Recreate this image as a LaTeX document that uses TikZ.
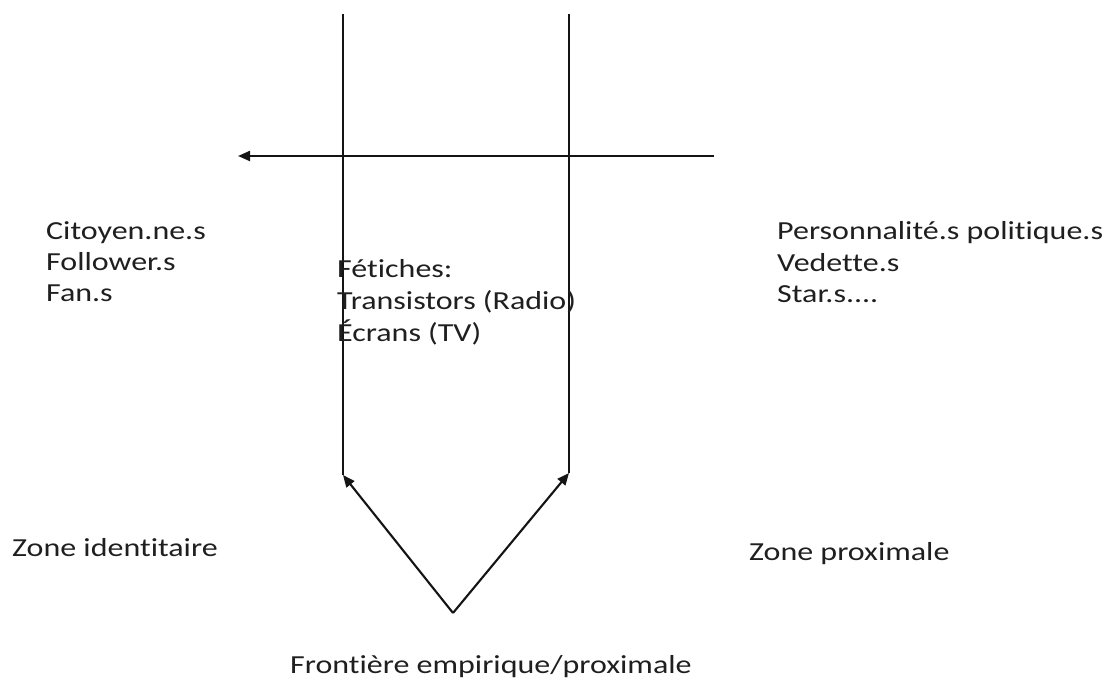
\documentclass[tikz,border=0pt]{standalone}
\usepackage{fontspec}
\setmainfont{Carlito}[FakeStretch=1.23,Ligatures={NoCommon,NoContextual}]
\usetikzlibrary{arrows.meta}
\begin{document}
\begin{tikzpicture}[x=1pt,y=-1pt,
  line/.style={line width=2.1pt,draw=black!92},
  tip/.style={-{Triangle[length=12pt,width=10pt]}},
  lbl/.style={anchor=base west,inner sep=0pt,text=black!88,font=\fontsize{26}{31}\selectfont}]
\useasboundingbox[fill=white] (0,0) rectangle (1112,684);

% the two vertical bounds and their feet
\coordinate (t1) at (343,14);
\coordinate (b1) at (343,475);
\coordinate (t2) at (569,14);
\coordinate (b2) at (569,473);
\coordinate (apex) at (453,613);
\coordinate (hR) at (714,156);
\coordinate (hL) at (238,156);

\draw[line] (t1) -- (b1);
\draw[line] (t2) -- (b2);
\draw[line,tip] (hR) -- (hL);
\draw[line,tip] (apex) -- (b1);
\draw[line,tip] (apex) -- (b2);

% left column
\node[lbl] (c1) at (46,240) {Citoyen.ne.s};
\node[lbl] (c2) at (46,271) {Follower.s};
\node[lbl] (c3) at (46,302) {Fan.s};

% middle column
\node[lbl] (m1) at (337,278) {Fétiches:};
\node[lbl] (m2) at (337,310) {Transistors (Radio)};
\node[lbl] (m3) at (337,342) {Écrans (TV)};

% right column
\node[lbl] (r1) at (777,240) {Personnalité.s politique.s};
\node[lbl] (r2) at (777,272) {Vedette.s};
\node[lbl] (r3) at (777,303) {Star.s....};

% zones
\node[lbl] (zi) at (12,556) {Zone identitaire};
\node[lbl] (zp) at (749,561) {Zone proximale};
\node[lbl] (fr) at (290,673) {Frontière empirique/proximale};
\end{tikzpicture}
\end{document}
